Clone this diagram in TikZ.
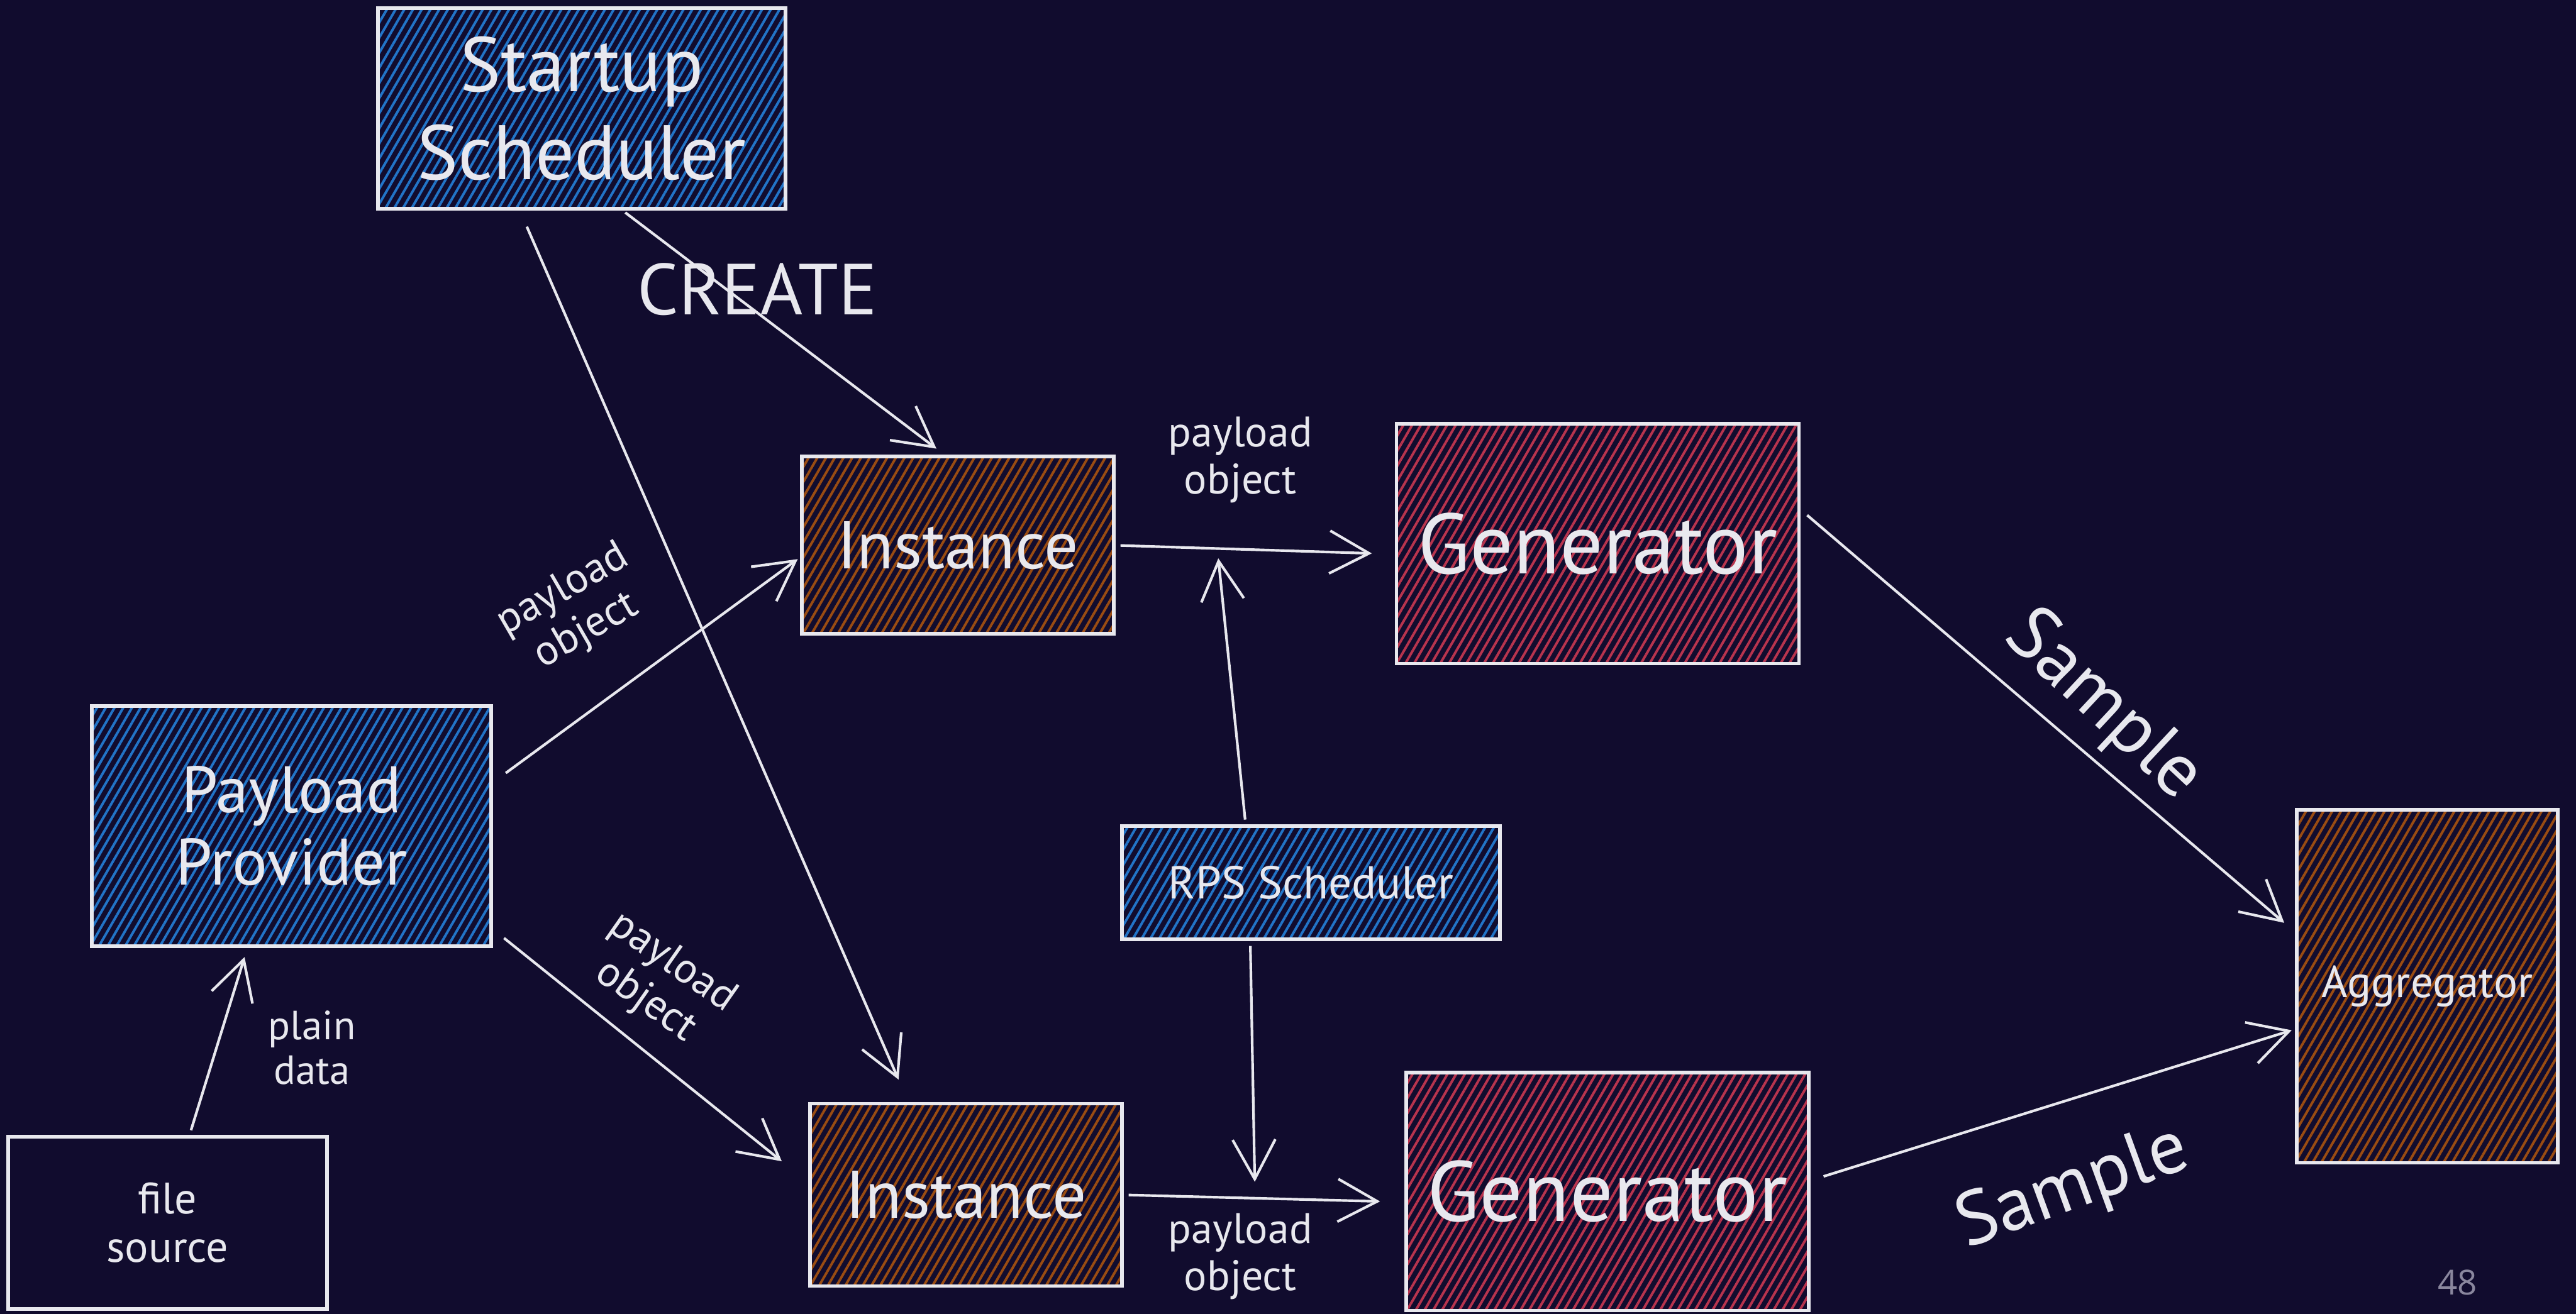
\documentclass[tikz,border=0pt]{standalone}
\usepackage{fontspec}
\setmainfont{PT Sans}
\newfontfamily\slidefont{Open Sans}
\usepackage{tikz}
\usetikzlibrary{arrows.meta,patterns.meta}
\definecolor{boardbg}{HTML}{110C2E}
\definecolor{chalk}{HTML}{E8E8EE}
\definecolor{hatchblue}{HTML}{2274C8}
\definecolor{hatchbrown}{HTML}{9A4C12}
\definecolor{hatchred}{HTML}{B8344E}
\definecolor{pagegrey}{HTML}{8A879E}
\newcommand{\boxline}{1.1pt}
\newcommand{\arrline}{0.8pt}
\newcommand{\fsz}[1]{\fontsize{#1}{1.1\dimexpr #1pt\relax}\selectfont}

\begin{document}
\begin{tikzpicture}[x=0.5pt, y=-0.5pt,
    block/.style = {draw=chalk, line width=\boxline, rectangle, inner sep=0pt, outer sep=0pt, text=chalk, align=center},
    hatched/.style = {block, pattern={Lines[angle=60,distance=2.3pt,line width=0.75pt]}, pattern color=#1},
    bluebox/.style = {hatched=hatchblue},
    brownbox/.style = {hatched=hatchbrown},
    redbox/.style = {hatched=hatchred},
    lbl/.style = {text=chalk, align=center, inner sep=0pt},
    arr/.style = {draw=chalk, line width=\arrline, -{Straight Barb[length=12pt,width=13pt]}}]
                %\draw[help lines] (0,0) grid[step=100] (1568,800);
                \fill[boardbg] (0,0) rectangle (1568,800);
                \useasboundingbox (0,0) rectangle (1568,800);
                % boxes
                \node[bluebox, minimum width=124pt, minimum height=61pt, font=\fsz{23.5}] (startup) at (354,66) {Startup\\[1pt]Scheduler};
                \node[bluebox, minimum width=121.5pt, minimum height=73pt, font=\fsz{20}] (provider) at (177.5,503) {Payload\\Provider};
                \node[block, minimum width=97pt, minimum height=52.5pt, font=\fsz{13.4}] (file) at (102,744.5) {file\\source};
                \node[brownbox, minimum width=95pt, minimum height=54pt, font=\fsz{20.5}] (inst1) at (583,332) {Instance};
                \node[brownbox, minimum width=95pt, minimum height=55.5pt, font=\fsz{20.5}] (inst2) at (588,727.5) {Instance};
                \node[redbox, minimum width=122.5pt, minimum height=73pt, font=\fsz{26}] (gen1) at (972.5,331) {Generator};
                \node[redbox, minimum width=122.5pt, minimum height=72.5pt, font=\fsz{26}] (gen2) at (978.5,725.5) {Generator};
                \node[bluebox, minimum width=115pt, minimum height=34.5pt, font=\fsz{14}] (rps) at (798,537.5) {RPS Scheduler};
                \node[brownbox, minimum width=79.5pt, minimum height=107.5pt, font=\fsz{13.6}] (aggr) at (1477.5,600.5) {Aggregator};
                % connectors
                \draw[arr, shorten <=2pt, shorten >=4pt] (startup.-69) -- (inst1.97);
                \draw[arr, shorten <=6pt, shorten >=8pt] (startup.-122.6) -- (inst2.122.6);
                \draw[arr, shorten <=5.5pt, shorten >=1.5pt] (provider.12.2) -- (inst1.-176.5);
                \draw[arr, shorten <=5pt, shorten >=11pt] (provider.-27.7) -- (inst2.176.9);
                \draw[arr, shorten <=2pt, shorten >=3.5pt] (file.76.4) -- (provider.-110.5);
                \draw[arr, shorten <=2pt, shorten >=7.5pt] (inst1.east) -- coordinate[pos=0.366] (ctl1) (gen1.183);
                \draw[arr, shorten <=2pt, shorten >=8pt] (inst2.east) -- coordinate[pos=0.468] (ctl2) (gen2.183.2);
                \draw[arr, shorten <=2pt, shorten >=3pt] (rps.139) -- (ctl1);
                \draw[arr, shorten <=2pt, shorten >=5pt] (rps.-137) -- (ctl2);
                \draw[arr, shorten <=3.3pt, shorten >=5pt] (gen1.10.3) -- (aggr.158.4);
                \draw[arr, shorten <=4.7pt, shorten >=1.6pt] (gen2.3.6) -- (aggr.198.5);
                % labels
                \node[lbl, font=\fsz{22}] (lblcreate) at (461,176) {CREATE};
                \node[lbl, font=\fsz{13}, rotate=30] (lblpay1) at (350,372) {payload\\object};
                \node[lbl, font=\fsz{13}, rotate=-35] (lblpay2) at (401,598) {payload\\object};
                \node[lbl, font=\fsz{13}] (lblpay3) at (755,280) {payload\\object};
                \node[lbl, font=\fsz{13}] (lblpay4) at (755,765) {payload\\object};
                \node[lbl, font=\fsz{12.4}] (lblplain) at (190,638) {plain\\data};
                \node[lbl, font=\fsz{23}, rotate=-43] (lblsample1) at (1280,430) {Sample};
                \node[lbl, font=\fsz{23}, rotate=20] (lblsample2) at (1262,724) {Sample};
                \node[text=pagegrey, inner sep=0pt, font=\slidefont\fsz{10.5}] (pagenum) at (1496,781) {48};
\end{tikzpicture}
\end{document}
